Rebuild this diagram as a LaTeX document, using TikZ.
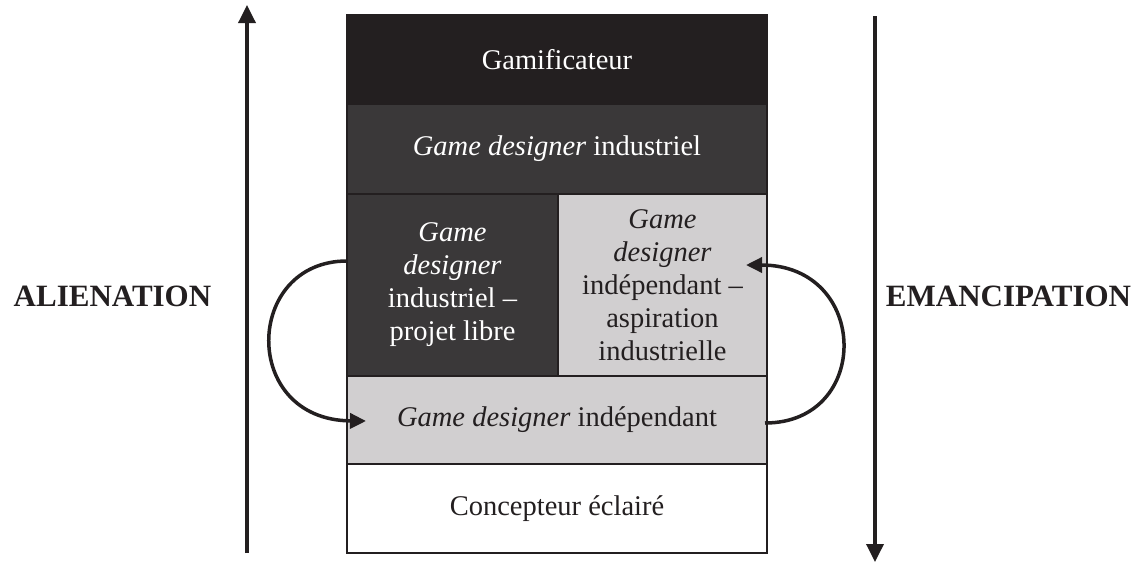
\documentclass[tikz,border=0pt]{standalone}
\usepackage{fontspec}
\setmainfont{Liberation Serif}
\usetikzlibrary{arrows.meta}
\definecolor{vdark}{HTML}{231F20}
\definecolor{mdark}{HTML}{3A3839}
\definecolor{lgray}{HTML}{D1CFD0}
\tikzset{
  row/.style={draw=vdark, line width=2pt, inner sep=0pt, align=center,
    font=\fontsize{28.5}{33}\selectfont},
  darkrow/.style={row, fill=mdark, text=white},
  lightrow/.style={row, fill=lgray, text=vdark},
  side/.style={font=\bfseries\fontsize{31}{36}\selectfont, text=vdark},
  bigarrow/.style={draw=vdark, line width=3.5pt, -{Triangle[width=17pt,length=18pt]}},
  loop/.style={draw=vdark, line width=3.5pt, -{Triangle[width=15pt,length=16pt]}}
}
\begin{document}
\begin{tikzpicture}[x=1pt,y=-1pt]
\useasboundingbox (0,0) rectangle (1147,563);
\fill[white] (0,0) rectangle (1147,563);
% rows
\node[row, fill=vdark, text=white, minimum width=420pt, minimum height=90pt] (gam) at (557,60) {Gamificateur};
\node[darkrow, minimum width=420pt, minimum height=90pt] (ind) at (557,149) {\textit{Game designer} industriel};
\node[darkrow, minimum width=211pt, minimum height=182pt] (ml) at (452.5,285) {\textit{Game}\\\textit{designer}\\industriel --\\projet libre};
\node[lightrow, minimum width=209pt, minimum height=182pt] (mr) at (662.5,285) {\textit{Game}\\\textit{designer}\\indépendant --\\aspiration\\industrielle};
\node[lightrow, minimum width=420pt, minimum height=88pt] (indep) at (557,420) {\textit{Game designer} indépendant};
\node[row, fill=white, text=vdark, minimum width=420pt, minimum height=89pt] (conc) at (557,508.5) {Concepteur éclairé};
% side labels
\node[side] (alien) at (112.5,296) {ALIENATION};
\node[side] (eman) at (1008.5,296) {EMANCIPATION};
% vertical arrows
\coordinate (lb) at (247,553);
\coordinate (lt) at (247,5);
\coordinate (rt) at (875,16);
\coordinate (rb) at (875,562);
\draw[bigarrow] (lb) -- (lt);
\draw[bigarrow] (rt) -- (rb);
% loops
\coordinate (l1) at (347,261);
\coordinate (l2) at (366,421);
\coordinate (r1) at (765,423);
\coordinate (r2) at (746,265);
\draw[loop] (l1) .. controls (244,261) and (240,420) .. (l2);
\draw[loop] (r1) .. controls (872,423) and (870,265) .. (r2);
\end{tikzpicture}
\end{document}
